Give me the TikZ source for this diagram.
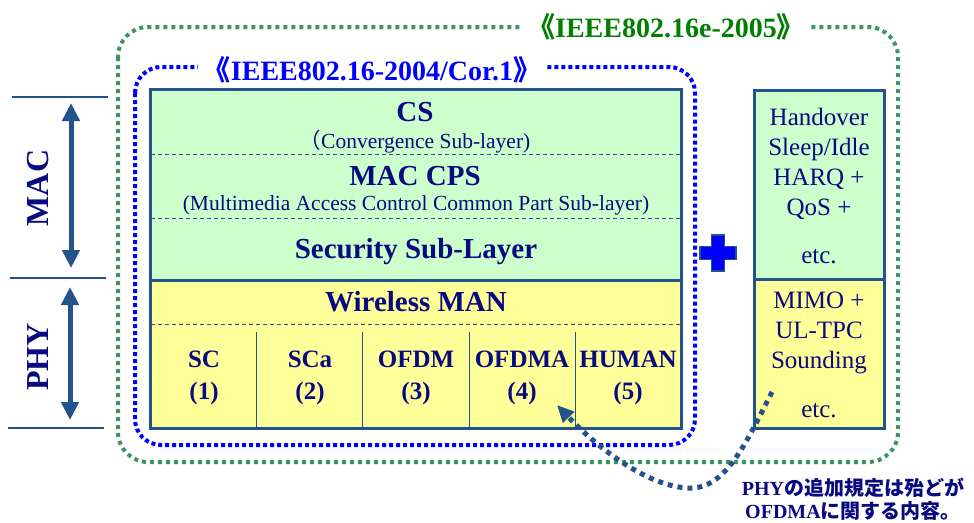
\documentclass[tikz,border=0pt]{standalone}
\usepackage{fontspec}
\setmainfont{Liberation Serif}
\newfontfamily\cjk{Noto Sans CJK JP}
\usetikzlibrary{arrows.meta}
\definecolor{navytext}{RGB}{10,10,128}
\definecolor{boxblue}{RGB}{36,82,140}
\definecolor{macfill}{RGB}{204,255,204}
\definecolor{phyfill}{RGB}{255,255,153}
\definecolor{dotgreen}{RGB}{60,150,100}
\definecolor{titlegreen}{RGB}{0,128,0}
\definecolor{dotblue}{RGB}{0,0,255}

\begin{document}
\begin{tikzpicture}[x=1pt, y=-1pt,
		maclayer/.style={draw=boxblue, line width=3pt, fill=macfill},
		phylayer/.style={draw=boxblue, line width=3pt, fill=phyfill},
		sepline/.style={draw=boxblue, line width=0.9pt, dash pattern=on 4pt off 3pt},
		colline/.style={draw=boxblue, line width=1pt},
		headtext/.style={text=navytext, font=\fontsize{29}{34}\selectfont\bfseries, inner sep=0pt},
		subtext/.style={text=navytext, font=\fontsize{21.5}{26}\selectfont, inner sep=0pt},
		coltext/.style={text=navytext, font=\fontsize{25}{32}\selectfont\bfseries, align=center, inner sep=0pt},
		sidetext/.style={text=navytext, font=\fontsize{25}{30}\selectfont, align=center, inner sep=0pt},
		sidelabel/.style={text=navytext, font=\fontsize{32}{36}\selectfont\bfseries, inner sep=0pt},
		stackarrow/.style={boxblue, line width=5pt, {Triangle[width=17pt,length=18pt]}-{Triangle[width=17pt,length=18pt]}},
		levelline/.style={draw=boxblue, line width=1.5pt},
		greenframe/.style={draw=dotgreen, line width=4pt, dash pattern=on 4pt off 4pt, rounded corners=30pt},
		blueframe/.style={draw=dotblue, line width=4pt, dash pattern=on 4pt off 3pt, rounded corners=26pt},
		notearrow/.style={draw=boxblue, line width=5pt, dash pattern=on 5pt off 5pt, -{Triangle[width=15pt,length=17pt]}}]
			\useasboundingbox (0,0) rectangle (974,522);

			% layer marks on the left
			\draw[levelline] (12,97) -- (108,97);
			\draw[levelline] (10,278) -- (106,278);
			\draw[levelline] (8,428) -- (104,428);
			\coordinate (mactop) at (71,103);
			\coordinate (macbot) at (71,268);
			\coordinate (phytop) at (70,287);
			\coordinate (phybot) at (70,420);
			\draw[stackarrow] (mactop) -- (macbot);
			\draw[stackarrow] (phytop) -- (phybot);
			\node[sidelabel, rotate=90] (maclabel) at (38,188) {MAC};
			\node[sidelabel, rotate=90] (phylabel) at (38,357) {PHY};

			% standard frames
			\draw[greenframe] (118,27) rectangle (898,462);
			\draw[blueframe] (135,67) rectangle (695,445);
			\node[fill=white, inner xsep=6pt, inner ysep=2pt, text=titlegreen, font=\fontsize{28}{31}\selectfont\bfseries] (std2005) at (666,27) {{\cjk 《}IEEE802.16e-2005{\cjk 》}};
			\node[fill=white, inner xsep=5pt, inner ysep=2pt, text=dotblue, font=\fontsize{28}{31}\selectfont\bfseries] (std2004) at (372,70) {{\cjk 《}IEEE802.16-2004/Cor.1{\cjk 》}};

			% 802.16-2004 stack
			\draw[maclayer] (150,89) rectangle (681,280);
			\draw[phylayer] (150,280) rectangle (681,428);
			\draw[sepline] (151,154) -- (680,154);
			\draw[sepline] (151,218) -- (680,218);
			\draw[sepline] (151,324) -- (680,324);
			\draw[colline] (256.4,332) -- (256.4,427);
			\draw[colline] (362.8,332) -- (362.8,427);
			\draw[colline] (469.2,332) -- (469.2,427);
			\draw[colline] (575.6,332) -- (575.6,427);
			\node[headtext] (cs) at (415,112) {CS};
			\node[subtext] (csfull) at (415,142) {{\cjk （}Convergence Sub-layer)};
			\node[headtext] (cps) at (415,176) {MAC CPS};
			\node[subtext] (cpsfull) at (416,205) {(Multimedia Access Control Common Part Sub-layer)};
			\node[headtext] (sec) at (416,252) {Security Sub-Layer};
			\node[headtext] (wman) at (416,302) {Wireless MAN};
			\node[coltext] (sc) at (204,378) {SC\\(1)};
			\node[coltext] (sca) at (310,378) {SCa\\(2)};
			\node[coltext] (ofdm) at (416,378) {OFDM\\(3)};
			\node[coltext] (ofdma) at (522,378) {OFDMA\\(4)};
			\node[coltext] (human) at (628,378) {HUMAN\\(5)};

			% plus
			\draw[fill=dotblue, draw=boxblue, line width=1.2pt] (711.5,235) -- (724.5,235) -- (724.5,246.5) -- (736,246.5) -- (736,259.5) -- (724.5,259.5) -- (724.5,271) -- (711.5,271) -- (711.5,259.5) -- (700,259.5) -- (700,246.5) -- (711.5,246.5) -- cycle;

			% 802.16e additions
			\draw[maclayer] (754,90) rectangle (884,279);
			\draw[phylayer] (754,279) rectangle (884,428);
			\node[sidetext] (macadd) at (819,164) {Handover\\Sleep/Idle\\HARQ +\\QoS +};
			\node[sidetext] (macetc) at (819,257) {etc.};
			\node[sidetext] (phyadd) at (819,333) {MIMO +\\UL-TPC\\Sounding};
			\node[sidetext] (phyetc) at (819,411) {etc.};

			% note
			\coordinate (notestart) at (772,392);
			\coordinate (noteend) at (557,405);
			\draw[notearrow] (notestart) .. controls (745,445) and (725,490) .. (688,488) .. controls (645,486) and (595,445) .. (noteend);
			\node[text=navytext, font=\fontsize{20}{23}\selectfont\bfseries, align=center, inner sep=0pt] (note) at (853,499) {PHY{\cjk の追加規定は殆どが}\\OFDMA{\cjk に関する内容。}};
		\end{tikzpicture}
\end{document}
